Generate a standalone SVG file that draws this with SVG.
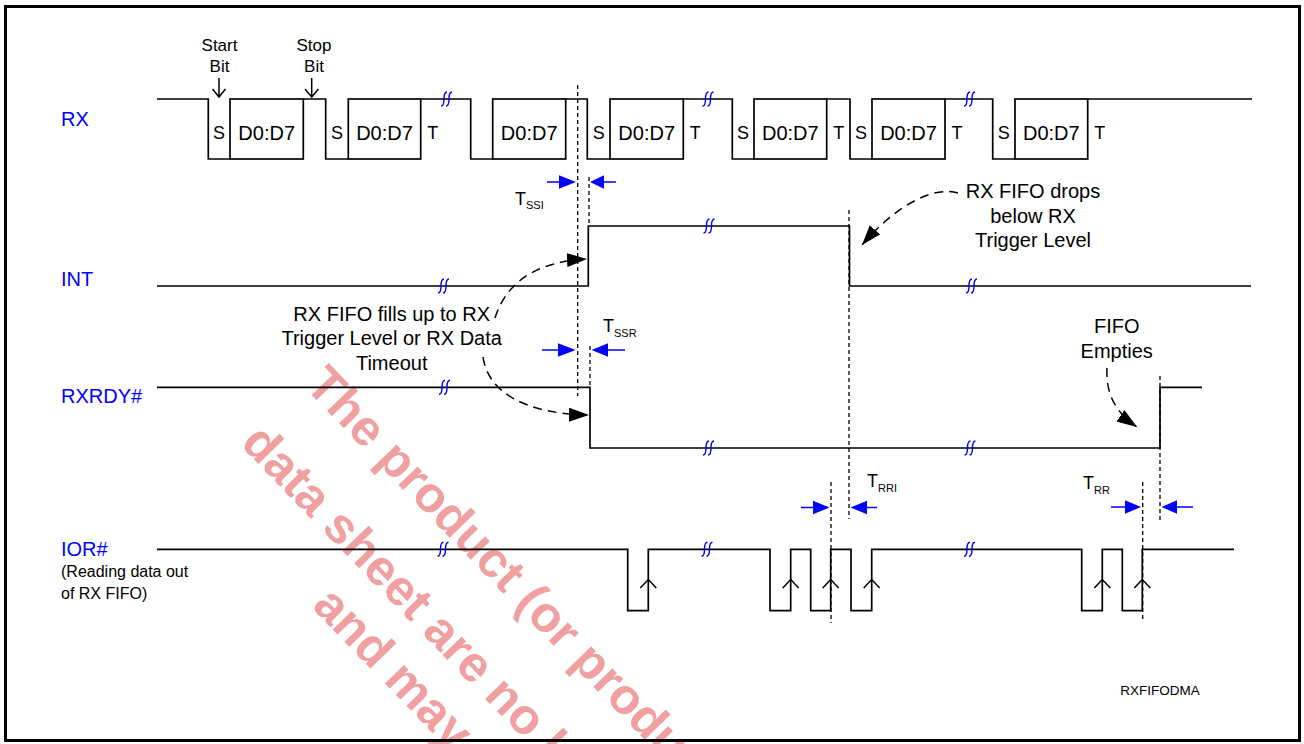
<svg xmlns="http://www.w3.org/2000/svg" width="1304" height="744" viewBox="0 0 1304 744">
<style>
.sig{fill:none;stroke:#000;stroke-width:1.7}
.box{fill:none;stroke:#000;stroke-width:1.7}
.dash{fill:none;stroke:#000;stroke-width:1.3;stroke-dasharray:4 3}
.cur{fill:none;stroke:#000;stroke-width:1.5;stroke-dasharray:9 6}
.brk{fill:none;stroke:#0000ff;stroke-width:1.4}
.bl{stroke:#0000ff;stroke-width:1.5}
.bt{fill:#0000ff}
.t{font-family:'Liberation Sans',Arial,sans-serif;fill:#000}
.lbl{font-family:'Liberation Sans',Arial,sans-serif;fill:#0000ff;font-size:20px}
.d{font-size:20px;text-anchor:middle}
.st{font-size:18px;text-anchor:middle}
.sm{font-size:17px;text-anchor:middle}
.an{font-size:20px;text-anchor:middle}
.tm{font-size:18px}
.sub{font-size:11px}
.chev{fill:none;stroke:#000;stroke-width:1.5}
.wm{font-family:'Liberation Sans',Arial,sans-serif;font-weight:bold;font-size:50px;fill:#f0a0a0}
</style>
<defs>
<g id="squig">
<path class="brk" d="M-6,7 C-3,7 -3,3 -3,0 C-3,-3 -3,-7 0,-7"/>
<path class="brk" d="M-1,7 C2,7 2,3 2,0 C2,-3 2,-7 5,-7"/>
</g>
<marker id="ah" viewBox="0 0 20 14" refX="20" refY="7" markerWidth="20" markerHeight="14" markerUnits="userSpaceOnUse" orient="auto">
<path d="M0,0 L20,7 L0,14 Z" fill="#000"/>
</marker>
</defs>
<rect width="1304" height="744" fill="#fff"/>

<!-- watermark -->
<g id="watermark">
<text class="wm" transform="translate(303.5,386.5) rotate(46)">The product (or produ</text>
<text class="wm" transform="translate(239.5,444.5) rotate(46)">data sheet are no lo</text>
<text class="wm" transform="translate(311,607) rotate(46)">and may</text>
</g>

<!-- RX -->
<g id="rx">
<text class="lbl" x="61" y="125.5">RX</text>
<path class="sig" d="M157,99 H208.3 V159 H230 M303.3,99 H325.7 V159 H348.3 M420.7,99 H470.7 V159 H492.7 M565.7,99 H587.3 V159 H610 M683.3,99 H732.3 V159 H754 M826.7,99 H850 V159 H872 M945,99 H992.7 V159 H1015 M1087.7,99 H1252"/>
<rect class="box" x="230" y="99" width="73.3" height="60"/>
<rect class="box" x="348.3" y="99" width="72.4" height="60"/>
<rect class="box" x="492.7" y="99" width="73" height="60"/>
<rect class="box" x="610" y="99" width="73.3" height="60"/>
<rect class="box" x="754" y="99" width="72.7" height="60"/>
<rect class="box" x="872" y="99" width="73" height="60"/>
<rect class="box" x="1015" y="99" width="72.7" height="60"/>
<g class="t d">
<text x="266.7" y="139.5">D0:D7</text>
<text x="384.5" y="139.5">D0:D7</text>
<text x="529.2" y="139.5">D0:D7</text>
<text x="646.7" y="139.5">D0:D7</text>
<text x="790.3" y="139.5">D0:D7</text>
<text x="908.5" y="139.5">D0:D7</text>
<text x="1051.3" y="139.5">D0:D7</text>
</g>
<g class="t st">
<text x="219" y="139">S</text>
<text x="337" y="139">S</text>
<text x="598.7" y="139">S</text>
<text x="743" y="139">S</text>
<text x="861" y="139">S</text>
<text x="1003.8" y="139">S</text>
<text x="432.7" y="139">T</text>
<text x="695.3" y="139">T</text>
<text x="838.7" y="139">T</text>
<text x="957" y="139">T</text>
<text x="1099.7" y="139">T</text>
</g>
<use href="#squig" x="447" y="99"/>
<use href="#squig" x="708.5" y="99"/>
<use href="#squig" x="970" y="99"/>
</g>

<!-- Start / Stop bit -->
<g id="startbit">
<text class="t sm" x="219.5" y="51">Start</text>
<text class="t sm" x="219.5" y="71.5">Bit</text>
<path class="chev" d="M219,78 V97 M212.5,89 L219,97 L225.5,89"/>
</g>
<g id="stopbit">
<text class="t sm" x="314" y="51">Stop</text>
<text class="t sm" x="314" y="71.5">Bit</text>
<path class="chev" d="M311.7,78 V97 M305,89 L311.7,97 L318.4,89"/>
</g>

<!-- INT -->
<g id="int">
<text class="lbl" x="61" y="285.5">INT</text>
<path class="sig" d="M157,286 H588.3 V226 H849.5 V286 H1251"/>
<use href="#squig" x="444" y="286"/>
<use href="#squig" x="709.5" y="226"/>
<use href="#squig" x="972" y="286"/>
</g>

<!-- RXRDY# -->
<g id="rxrdy">
<text class="lbl" x="61" y="402.5">RXRDY#</text>
<path class="sig" d="M157,387.3 H590 V448 H1160 V387.3 H1202"/>
<use href="#squig" x="445" y="387.3"/>
<use href="#squig" x="709" y="448"/>
<use href="#squig" x="970.5" y="448"/>
</g>

<!-- IOR# -->
<g id="ior">
<text class="lbl" x="61" y="555.5">IOR#</text>
<text class="t" x="61" y="577" font-size="16">(Reading data out</text>
<text class="t" x="61" y="599" font-size="16">of RX FIFO)</text>
<path class="sig" d="M157,549.3 H627.7 V610.7 H648.3 V549.3 H770 V610.7 H790.7 V549.3 H810.7 V610.7 H830.7 V549.3 H851 V610.7 H871.7 V549.3 H1081.7 V610.7 H1102.3 V549.3 H1122.3 V610.7 H1142.3 V549.3 H1234"/>
<path class="chev" d="M640.3,588 L648.3,579.5 L656.3,588 M782.7,588 L790.7,579.5 L798.7,588 M822.7,588 L830.7,579.5 L838.7,588 M863.7,588 L871.7,579.5 L879.7,588 M1094.3,588 L1102.3,579.5 L1110.3,588 M1134.3,588 L1142.3,579.5 L1150.3,588"/>
<use href="#squig" x="443.5" y="549.3"/>
<use href="#squig" x="707.5" y="549.3"/>
<use href="#squig" x="970" y="549.3"/>
</g>

<!-- timing reference lines -->
<g id="timing">
<path class="dash" d="M577.7,85 V396 M589,177 V226 M590,346 V387 M849,210 V519 M831,482 V623 M1142.7,482 V622 M1160,376 V520"/>
<g id="tssi">
<path class="bl" d="M547,182 H560 M604,182 H616"/>
<path class="bt" d="M559,175.3 L576,182 L559,188.7 Z M590,182 L604,175.3 L604,188.7 Z"/>
<text class="t tm" x="515" y="205">T<tspan class="sub" dy="4">SSI</tspan></text>
</g>
<g id="tssr">
<path class="bl" d="M542,350 H559 M607,350 H625"/>
<path class="bt" d="M558,343.3 L575.7,350 L558,356.7 Z M591.7,350 L608,343.3 L608,356.7 Z"/>
<text class="t tm" x="603" y="331.5">T<tspan class="sub" dy="5">SSR</tspan></text>
</g>
<g id="trri">
<path class="bl" d="M801,507.5 H814 M866,507.5 H877"/>
<path class="bt" d="M813,500.8 L829.5,507.5 L813,514.2 Z M850.5,507.5 L867,500.8 L867,514.2 Z"/>
<text class="t tm" x="867" y="487">T<tspan class="sub" dy="5">RRI</tspan></text>
</g>
<g id="trr">
<path class="bl" d="M1111,507 H1126 M1176,507 H1193"/>
<path class="bt" d="M1125,500.3 L1141,507 L1125,513.7 Z M1161.5,507 L1177,500.3 L1177,513.7 Z"/>
<text class="t tm" x="1083" y="489">T<tspan class="sub" dy="5">RR</tspan></text>
</g>
</g>

<!-- annotations -->
<g id="note-fill">
<text class="t an" x="391.7" y="320.5">RX FIFO fills up to RX</text>
<text class="t an" x="391.7" y="345">Trigger Level or RX Data</text>
<text class="t an" x="391.7" y="370">Timeout</text>
</g>
<g id="note-drop">
<text class="t an" x="1033" y="198">RX FIFO drops</text>
<text class="t an" x="1033" y="222.5">below RX</text>
<text class="t an" x="1033" y="247">Trigger Level</text>
</g>
<g id="note-empty">
<text class="t an" x="1116.7" y="333">FIFO</text>
<text class="t an" x="1116.7" y="358">Empties</text>
</g>
<text id="figid" class="t" x="1160" y="695" font-size="13.5" text-anchor="middle">RXFIFODMA</text>

<!-- connectors -->
<g id="connectors">
<path class="cur" d="M495,318 C505,287 530,262 587,259" marker-end="url(#ah)"/>
<path class="cur" d="M483,357 C488,392 525,414 589,415" marker-end="url(#ah)"/>
<path class="cur" d="M958,193 C935,186 898,203 862,245" marker-end="url(#ah)"/>
<path class="cur" d="M1107,368 C1106,390 1112,410 1137,427" marker-end="url(#ah)"/>
</g>

<!-- frame -->
<rect x="5.5" y="6.5" width="1294" height="734" fill="none" stroke="#000" stroke-width="3"/>
</svg>
